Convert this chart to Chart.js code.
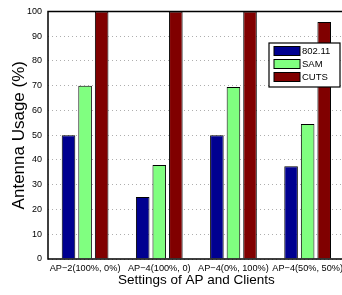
<!DOCTYPE html>
<html>
<head>
<meta charset="utf-8">
<script src="https://cdn.jsdelivr.net/npm/chart.js@4/dist/chart.umd.min.js"></script>
<style>
  html, body { margin: 0; padding: 0; background: #fff; overflow: hidden; }
  .wrap { position: relative; width: 347px; height: 295px; }
</style>
</head>
<body>
<div class="wrap"><canvas id="myChart"></canvas></div>
<script>
const categories = ["AP\u22122(100%, 0%)", "AP\u22124(100%, 0)", "AP\u22124(0%, 100%)", "AP\u22124(50%, 50%)"];
const seriesNames = ["802.11", "SAM", "CUTS"];
const usage80211 = [50, 25, 50, 37.5];
const usageSAM = [70, 38, 69.5, 54.5];
const usageCUTS = [100, 100, 100, 95.7];
const seriesColors = ["#000090", "#80FF80", "#800000"];

const FONT = "'Liberation Sans', Arial, sans-serif";

// axis lines, top box line + legend drawn like matlab
const boxAndLegend = {
  id: "boxAndLegend",
  afterDraw(chart) {
    const c = chart.ctx;
    const area = chart.chartArea;
    c.save();
    c.setLineDash([]);
    c.strokeStyle = "#000";
    c.lineWidth = 1.5;
    c.beginPath();
    c.moveTo(area.right, area.top);
    c.lineTo(area.left, area.top);
    c.lineTo(area.left, area.bottom);
    c.lineTo(area.right, area.bottom);
    c.stroke();

    // legend box
    const lx = 269, ly = 43, lw = 71, lh = 44;
    c.fillStyle = "#fff";
    c.fillRect(lx, ly, lw, lh);
    c.lineWidth = 1.2;
    c.strokeRect(lx, ly, lw, lh);
    c.font = "9.5px " + FONT;
    c.textBaseline = "middle";
    chart.data.datasets.forEach((ds, i) => {
      const y = ly + 8 + i * 13;
      c.fillStyle = ds.backgroundColor;
      c.fillRect(lx + 5, y - 4.5, 26, 9);
      c.lineWidth = 1;
      c.strokeStyle = "#000";
      c.strokeRect(lx + 5, y - 4.5, 26, 9);
      c.fillStyle = "#000";
      c.fillText(ds.label, lx + 33, y + 0.5);
    });
    c.restore();
  },
};

const ctx = document.getElementById("myChart").getContext("2d");

new Chart(ctx, {
  type: "bar",
  data: {
    labels: categories,
    datasets: [
      { label: seriesNames[0], data: usage80211, backgroundColor: seriesColors[0] },
      { label: seriesNames[1], data: usageSAM, backgroundColor: seriesColors[1] },
      { label: seriesNames[2], data: usageCUTS, backgroundColor: seriesColors[2] },
    ].map((d) => ({ ...d, borderColor: "#000", borderWidth: 1, categoryPercentage: 0.67, barPercentage: 0.82 })),
  },
  options: {
    responsive: true,
    maintainAspectRatio: false,
    animation: false,
    layout: { padding: { top: 6, right: 0, bottom: 0, left: 0 } },
    plugins: { legend: { display: false }, tooltip: { enabled: false } },
    scales: {
      x: {
        grid: { display: false, drawTicks: false },
        border: { display: false },
        ticks: { color: "#000", font: { family: FONT, size: 9.2 }, padding: 4, maxRotation: 0, autoSkip: false },
        title: { display: true, text: "Settings of AP and Clients", color: "#000", font: { family: FONT, size: 13.5 }, padding: { top: 0, bottom: 7 } },
        afterFit: (scale) => { scale.height = 36; },
      },
      y: {
        min: 0,
        max: 100,
        grid: { color: "#999", drawTicks: false, lineWidth: 0.8 },
        border: { display: false, dash: [1, 3] },
        ticks: { stepSize: 10, color: "#000", font: { family: FONT, size: 9 }, padding: 6 },
        title: { display: true, text: "Antenna Usage (%)", color: "#000", font: { family: FONT, size: 17 }, padding: { top: 9, bottom: 0 } },
        afterFit: (scale) => { scale.width = 48; },
      },
    },
  },
  plugins: [boxAndLegend],
});
</script>
</body>
</html>
